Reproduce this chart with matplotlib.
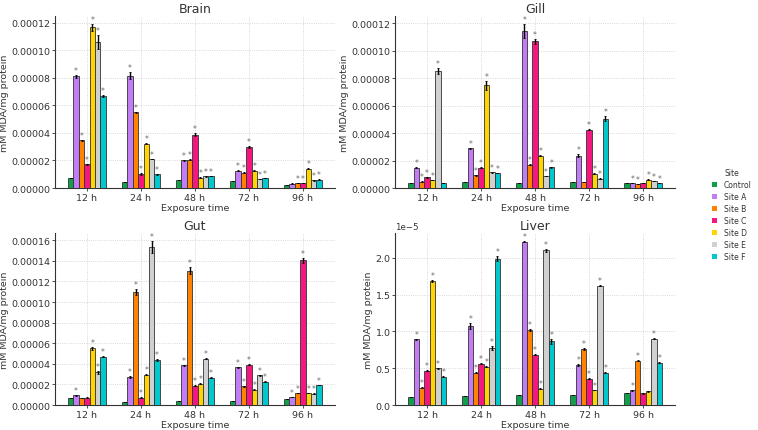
import numpy as np
import matplotlib
matplotlib.use('Agg')
import matplotlib.pyplot as plt
from matplotlib.patches import Patch

times = ['12 h', '24 h', '48 h', '72 h', '96 h']
sites = ['Control', 'Site A', 'Site B', 'Site C', 'Site D', 'Site E', 'Site F']
colors = ['#11a04a', '#c27cf6', '#ff8200', '#f5167f', '#ffd400', '#d0d0d0', '#00c8cc']

# values in mM MDA/mg protein, rows = time, cols = site
brain = np.array([
    [7.0, 81.0, 34.8, 17.2, 116.5, 106.0, 66.6],
    [4.6, 81.5, 55.0, 10.2, 32.2, 21.0, 10.0],
    [5.5, 20.0, 20.6, 38.8, 7.5, 8.5, 8.8],
    [5.4, 12.6, 11.2, 29.8, 12.6, 6.6, 7.4],
    [2.4, 3.2, 3.8, 3.8, 14.1, 5.6, 6.0],
]) * 1e-6
brain_err = np.array([
    [0, 1.0, 0.4, 0.4, 2.5, 5.0, 0.6],
    [0, 2.5, 0.4, 0.4, 0.6, 0.3, 0.3],
    [0, 0.3, 0.3, 1.0, 0.2, 0.2, 0.2],
    [0, 0.3, 0.3, 0.8, 0.3, 0.2, 0.2],
    [0, 0.1, 0.1, 0.1, 0.3, 0.2, 0.2],
]) * 1e-6
brain_sig = [
    [0, 1, 1, 1, 1, 1, 1],
    [0, 1, 1, 1, 1, 1, 1],
    [0, 1, 1, 1, 1, 1, 1],
    [0, 1, 1, 1, 1, 1, 1],
    [0, 0, 1, 1, 1, 1, 1],
]

gill = np.array([
    [3.9, 14.8, 4.6, 7.8, 5.8, 85.2, 3.9],
    [4.1, 29.0, 9.2, 14.8, 74.7, 11.4, 10.9],
    [3.9, 114.4, 17.0, 106.8, 23.4, 8.8, 15.1],
    [4.4, 23.6, 4.6, 42.6, 10.5, 6.8, 50.6],
    [3.9, 3.4, 2.9, 3.9, 6.1, 5.1, 3.6],
]) * 1e-6
gill_err = np.array([
    [0, 0.3, 0.2, 0.3, 0.2, 2.0, 0],
    [0, 0.4, 0.3, 0.3, 3.0, 0.3, 0.3],
    [0, 5.0, 0.3, 2.0, 0.4, 0.3, 0.3],
    [0, 1.0, 0, 0.4, 0.3, 0.2, 2.0],
    [0, 0.1, 0.1, 0.1, 0.2, 0.1, 0.1],
]) * 1e-6
gill_sig = [
    [0, 1, 1, 1, 1, 1, 0],
    [0, 1, 1, 1, 1, 1, 1],
    [0, 1, 1, 1, 1, 1, 1],
    [0, 1, 0, 1, 1, 1, 1],
    [0, 1, 1, 0, 1, 1, 1],
]

gut = np.array([
    [6.5, 9.5, 6.9, 7.2, 54.9, 31.7, 47.1],
    [2.9, 27.1, 109.8, 7.2, 29.4, 153.3, 43.8],
    [4.2, 38.6, 130.4, 18.6, 20.6, 44.8, 26.5],
    [3.9, 36.6, 18.0, 39.2, 15.0, 28.8, 22.5],
    [5.9, 7.8, 11.8, 140.5, 11.8, 11.1, 19.3],
]) * 1e-6
gut_err = np.array([
    [0, 0.3, 0.2, 0.2, 1.5, 1.2, 0.3],
    [0, 0.6, 3.0, 0.3, 0.4, 6.0, 0.6],
    [0, 0.4, 3.5, 0.4, 0.3, 0.5, 0.4],
    [0, 0.4, 0.3, 0.6, 0.3, 0.5, 0.4],
    [0, 0.2, 0.2, 2.5, 0.2, 0.2, 0.3],
]) * 1e-6
gut_sig = [
    [0, 1, 0, 0, 1, 1, 1],
    [0, 1, 1, 1, 1, 1, 1],
    [0, 1, 1, 1, 1, 1, 1],
    [0, 1, 1, 1, 1, 1, 1],
    [0, 1, 1, 1, 1, 1, 1],
]

liver = np.array([
    [1.10, 8.90, 2.37, 4.66, 16.85, 4.98, 3.84],
    [1.23, 10.70, 4.38, 5.62, 5.20, 7.76, 19.90],
    [1.37, 22.20, 10.20, 6.85, 2.20, 21.05, 8.63],
    [1.37, 5.43, 7.58, 3.60, 2.05, 16.20, 4.38],
    [1.60, 2.00, 6.03, 1.60, 1.87, 9.00, 5.75],
]) * 1e-6
liver_err = np.array([
    [0, 0.05, 0.05, 0.08, 0.08, 0.05, 0.05],
    [0, 0.40, 0.08, 0.08, 0.05, 0.30, 0.30],
    [0, 0.08, 0.10, 0.10, 0.05, 0.20, 0.30],
    [0, 0.08, 0.10, 0.05, 0.05, 0.10, 0.05],
    [0, 0.05, 0.05, 0.05, 0.05, 0.05, 0.05],
]) * 1e-6
liver_sig = [
    [0, 1, 1, 1, 1, 1, 1],
    [0, 1, 1, 1, 1, 1, 1],
    [0, 1, 1, 1, 1, 1, 1],
    [0, 1, 1, 1, 1, 1, 1],
    [0, 1, 1, 0, 0, 1, 1],
]

tissues = [('Brain', brain, brain_err, brain_sig),
           ('Gill', gill, gill_err, gill_sig),
           ('Gut', gut, gut_err, gut_sig),
           ('Liver', liver, liver_err, liver_sig)]

txt = '#333333'
plt.rcParams['font.family'] = 'DejaVu Sans'
plt.rcParams['text.color'] = txt
plt.rcParams['axes.labelcolor'] = txt
plt.rcParams['xtick.color'] = txt
plt.rcParams['ytick.color'] = txt

fig, axes = plt.subplots(2, 2, figsize=(7.58, 4.31), dpi=100)
fig.subplots_adjust(left=0.073, right=0.89, bottom=0.058, top=0.961,
                    wspace=0.218, hspace=0.26)

x = np.arange(len(times))
w = 0.1
for ax, (name, vals, errs, sig) in zip(axes.flat, tissues):
    for j, site in enumerate(sites):
        pos = x + (j - 3) * w
        ax.bar(pos, vals[:, j], w, yerr=errs[:, j], color=colors[j],
               edgecolor='#333333', linewidth=0.6, zorder=3,
               error_kw=dict(ecolor='black', elinewidth=1.0, capsize=1, capthick=0.6, zorder=4))
        for i in range(len(times)):
            if sig[i][j]:
                ax.text(pos[i], vals[i, j] + errs[i, j], '*', ha='center', va='bottom',
                        fontsize=5.5, color='#666666', zorder=5)
    ax.set_title(name, fontsize=9, pad=3)
    ax.set_xticks(x)
    ax.set_xticklabels(times)
    ax.set_xlabel('Exposure time', fontsize=6.8, labelpad=1)
    ax.set_ylabel('mM MDA/mg protein', fontsize=6.8, labelpad=2)
    ax.tick_params(labelsize=6.8, length=2, width=0.6, pad=1.5)
    ax.yaxis.get_offset_text().set_fontsize(6.2)
    ax.grid(True, linestyle=':', linewidth=0.6, color='#cccccc', zorder=0)
    ax.set_axisbelow(True)
    for s in ['top', 'right']:
        ax.spines[s].set_visible(False)
    for s in ['left', 'bottom']:
        ax.spines[s].set_color('#333333')
        ax.spines[s].set_linewidth(0.8)

handles = [Patch(facecolor=c, edgecolor='none') for c in colors]
leg = fig.legend(handles, sites, title='Site', loc='center left', bbox_to_anchor=(0.93, 0.5),
                 frameon=False, fontsize=5.5, title_fontsize=5.5,
                 handlelength=0.7, handleheight=0.7, handletextpad=0.9, labelspacing=0.4)

fig.savefig('out.png', dpi=100)
